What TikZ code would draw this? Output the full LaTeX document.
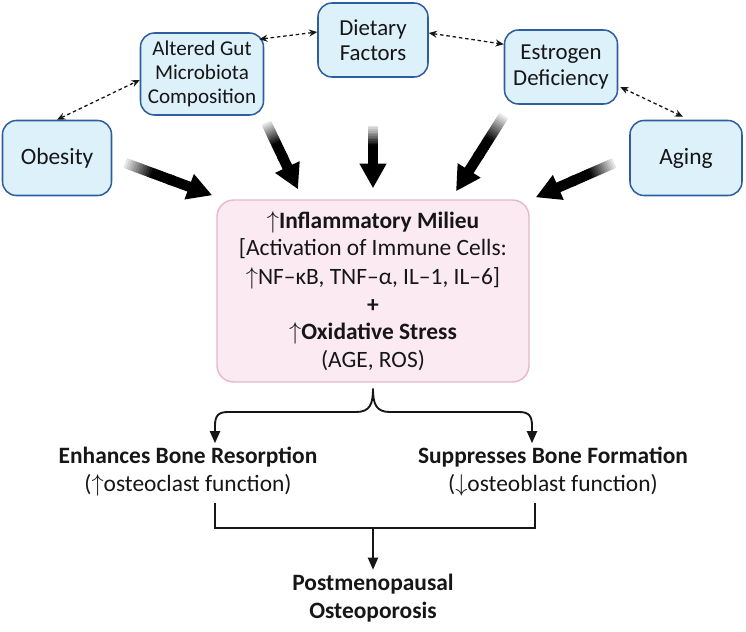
\documentclass[tikz,border=0pt]{standalone}
\usepackage{fontspec}
\setmainfont{Carlito}
\usetikzlibrary{calc,arrows.meta}
\definecolor{boxblue}{HTML}{DDF1FB}
\definecolor{edgeblue}{HTML}{2F5E9E}
\definecolor{boxpink}{HTML}{FCEAF2}
\definecolor{edgepink}{HTML}{E7B7CB}
\definecolor{inkgray}{HTML}{161616}
\tikzset{
	factor/.style={draw=edgeblue, fill=boxblue, line width=1.3pt, rounded corners=0.42cm, align=center, text=inkgray, inner sep=1pt},
	milieubox/.style={draw=edgepink, fill=boxpink, line width=1.2pt, rounded corners=0.5cm, align=center, text=inkgray, inner sep=1pt, font=\fontsize{20}{22.6}\selectfont},
	dotlink/.style={line width=1.1pt, inkgray, dash pattern=on 3pt off 2.4pt, {Stealth[length=7pt,width=6pt]}-{Stealth[length=7pt,width=6pt]}},
	flow/.style={line width=1.6pt, inkgray, -{Triangle[length=0.36cm,width=0.3cm]}},
	outcome/.style={align=center, text=inkgray, font=\fontsize{20}{24}\selectfont}
}
% thick arrow that fades in from grey to black
\newcommand{\fadearrow}[2]{%
	\foreach \k in {0,...,19}{%
		\pgfmathtruncatemacro{\tone}{min(100,10+\k*8)}%
		\draw[line width=0.31cm, black!\tone] ($(#1)!{\k*0.027}!(#2)$) -- ($(#1)!{(\k+1)*0.027+0.006}!(#2)$);
	}
	\draw[line width=0.31cm, black, -{Triangle[length=0.74cm,width=0.76cm]}] ($(#1)!0.5!(#2)$) -- (#2);
}

\begin{document}
\begin{tikzpicture}[x=0.03cm, y=-0.03cm]
		%%%%% START %%%%%
		\useasboundingbox (0,0) rectangle (746,631);
		
		\node[factor, minimum width=3.27cm, minimum height=2.25cm, font=\fontsize{20}{22}\selectfont] (obesity) at (57,158) {Obesity};
		\node[factor, minimum width=3.69cm, minimum height=2.46cm, font=\fontsize{18}{20.5}\selectfont] (gut) at (202,74) {Altered Gut\\Microbiota\\Composition};
		\node[factor, minimum width=3.3cm, minimum height=2.22cm, font=\fontsize{19.5}{21.5}\selectfont] (dietary) at (373,40) {Dietary\\Factors};
		\node[factor, minimum width=3.39cm, minimum height=2.22cm, font=\fontsize{19.5}{21.5}\selectfont] (estrogen) at (561,67) {Estrogen\\Deficiency};
		\node[factor, minimum width=3.36cm, minimum height=2.25cm, font=\fontsize{20}{22}\selectfont] (aging) at (686,158) {Aging};
		
		\node[milieubox, minimum width=9.36cm, minimum height=5.46cm] (milieu) at (373,291) {%
			{\bfseries$\uparrow$Inflammatory Milieu}\\[0.6pt]
			{[}Activation of Immune Cells:\\[2pt]
			$\uparrow$NF–κB, TNF–α, IL–1, IL–6{]}\\[1.4pt]
			{\bfseries +}\\[0.6pt]
			{\bfseries$\uparrow$Oxidative Stress}\\[0.6pt]
			(AGE, ROS)};
		
		% dashed links between the factors
		\draw[dotlink] (obesity.north) -- ($(gut.west)+(0,6)$);
		\draw[dotlink] ($(gut.north east)+(-5,7)$) -- ($(dietary.west)+(0,-8)$);
		\draw[dotlink] ($(dietary.east)+(0,-7)$) -- ($(estrogen.north west)+(0,15)$);
		\draw[dotlink] ($(estrogen.east)+(2,20)$) -- ($(aging.north)+(-3,-3)$);
		
		% thick arrows into the milieu box
		\coordinate (s1) at ($(obesity.east)+(13,5)$);
		\coordinate (t1) at ($(milieu.north west)+(-4,-4)$);
		\coordinate (s2) at ($(gut.south east)+(2,7)$);
		\coordinate (t2) at ($(milieu.north)+(-75,-10)$);
		\coordinate (s3) at ($(dietary.south)+(0,48)$);
		\coordinate (t3) at ($(milieu.north)+(0,-11)$);
		\coordinate (s4) at ($(estrogen.south west)+(0,11)$);
		\coordinate (t4) at ($(milieu.north)+(83,-8)$);
		\coordinate (s5) at ($(aging.west)+(-15,5)$);
		\coordinate (t5) at ($(milieu.north east)+(6,-2)$);
		\fadearrow{s1}{t1}
		\fadearrow{s2}{t2}
		\fadearrow{s3}{t3}
		\fadearrow{s4}{t4}
		\fadearrow{s5}{t5}
		
		% the two outcomes
		\node[outcome] (resorp) at (188,472) {{\bfseries Enhances Bone Resorption}\\($\uparrow$osteoclast function)};
		\node[outcome] (formation) at (553,472) {{\bfseries Suppresses Bone Formation}\\($\downarrow$osteoblast function)};
		\node[outcome] (post) at (373,598) {\bfseries Postmenopausal\\\bfseries Osteoporosis};
		
		\coordinate (split) at ($(milieu.south)+(0,6)$);
		\coordinate (lcol) at (215,0);
		\coordinate (rcol) at (532,0);
		\draw[flow] (split) .. controls (373,404) and (370,412) .. (356,412) -- (228,412) .. controls (218,412) and (215,416) .. (215,426) -- (lcol |- resorp.north);
		\draw[flow] (split) .. controls (373,404) and (376,412) .. (390,412) -- (519,412) .. controls (529,412) and (532,416) .. (532,426) -- (rcol |- formation.north);
		
		\draw[line width=1.6pt, inkgray] ($(lcol |- resorp.south)+(0,2)$) -- (215,528) -- (535,528) -- ($(535,0 |- formation.south)+(0,2)$);
		\coordinate (join) at (373,528);
		\draw[flow] (join) -- (post.north);
		
		%%%%% END %%%%%
\end{tikzpicture}
\end{document}
